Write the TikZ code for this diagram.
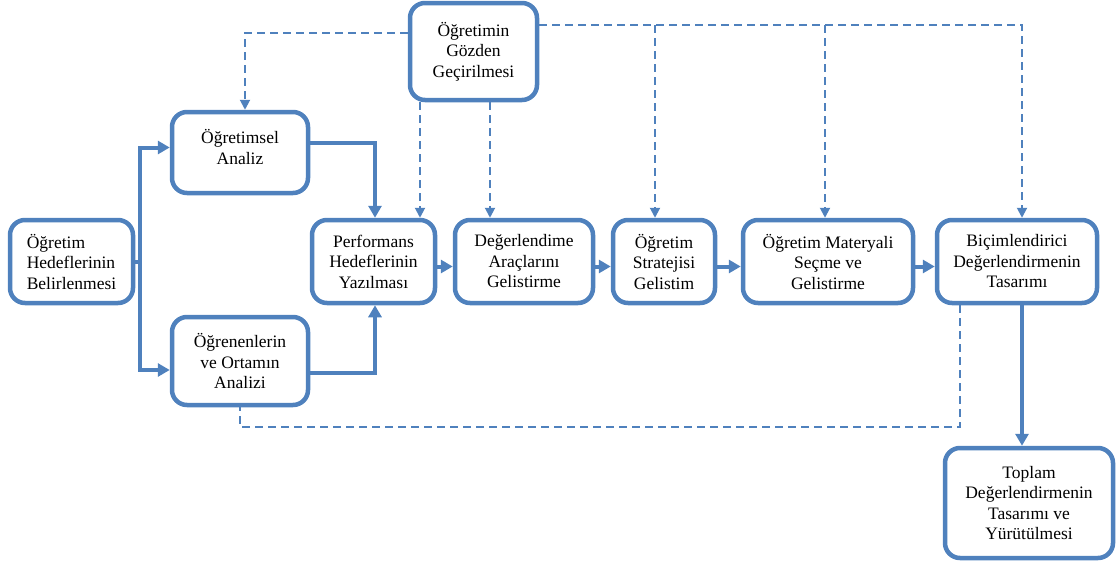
\documentclass[tikz,border=0pt]{standalone}
\usepackage{fontspec}
\setmainfont{Liberation Serif}
\usetikzlibrary{arrows.meta}
\definecolor{blu}{RGB}{79,129,189}
\begin{document}
\begin{tikzpicture}[x=1pt,y=-1pt,
  box/.style={draw=blu, line width=4.5pt, rounded corners=15pt, fill=white,
    align=center, text=black, font=\fontsize{17.5}{20.5}\selectfont, inner sep=2pt},
  flow/.style={draw=blu, line width=4pt, -{Triangle[length=12pt,width=13pt]}},
  flowline/.style={draw=blu, line width=4pt},
  fb/.style={draw=blu, line width=2pt, dash pattern=on 8pt off 5pt, -{Triangle[length=10pt,width=10pt]}},
  fbn/.style={draw=blu, line width=2pt, dash pattern=on 8pt off 5pt}
]
\useasboundingbox (0,0) rectangle (1116,562);

\node[box, align=left, minimum width=123pt, minimum height=83pt] (hedef) at (71.5,261.5) {Öğretim\\Hedeflerinin\\Belirlenmesi};
\node[box, minimum width=136pt, minimum height=81pt] (analiz) at (240,152.5) {Öğretimsel\\Analiz\\[-9pt]};
\node[box, minimum width=136pt, minimum height=88pt] (ogren) at (240,361) {Öğrenenlerin\\ve Ortamın\\Analizi};
\node[box, minimum width=123pt, minimum height=83pt] (perf) at (373.5,261.5) {Performans\\Hedeflerinin\\Yazılması};
\node[box, minimum width=127pt, minimum height=97pt] (gozden) at (473.5,51.5) {Öğretimin\\Gözden\\Geçirilmesi};
\node[box, minimum width=138pt, minimum height=83pt] (deger) at (524,261.5) {Değerlendime\\Araçlarını\\Gelistirme};
\node[box, minimum width=102pt, minimum height=83pt] (strat) at (664,261.5) {Öğretim\\Stratejisi\\Gelistim};
\node[box, minimum width=170pt, minimum height=83pt] (mater) at (828,261.5) {Öğretim Materyali\\Seçme ve\\Gelistirme};
\node[box, minimum width=160pt, minimum height=83pt] (bicim) at (1017,261.5) {Biçimlendirici\\Değerlendirmenin\\Tasarımı};
\node[box, minimum width=168pt, minimum height=110pt] (toplam) at (1029,503) {Toplam\\Değerlendirmenin\\Tasarımı ve\\Yürütülmesi};

\coordinate (br) at (140,261.5);
\coordinate (yl) at (0,33);
\coordinate (yr) at (0,25);
\coordinate (ybot) at (0,427);

% solid connectors
\draw[flowline] (hedef.east) -- (br);
\draw[flow, {Triangle[length=12pt,width=13pt]}-{Triangle[length=12pt,width=13pt]}]
  ([yshift=5pt]analiz.west) -| (br) |- ([yshift=-9pt]ogren.west);
\draw[flow] ([yshift=9.5pt]analiz.east) -| ([xshift=1.5pt]perf.north);
\draw[flow] ([yshift=-12pt]ogren.east) -| ([xshift=1.5pt]perf.south);
\draw[flow] ([yshift=-5pt]perf.east) -- ([yshift=-5pt]deger.west);
\draw[flow] ([yshift=-5pt]deger.east) -- ([yshift=-5pt]strat.west);
\draw[flow] ([yshift=-5pt]strat.east) -- ([yshift=-5pt]mater.west);
\draw[flow] ([yshift=-5pt]mater.east) -- ([yshift=-5pt]bicim.west);
\draw[flow] ([xshift=5pt]bicim.south) -- ([xshift=5pt]bicim.south |- toplam.north);

% dashed feedback
\draw[fb] (gozden.west |- yl) -| ([xshift=5pt]analiz.north);
\draw[fb] ([xshift=-53.5pt]gozden.south) -- ([xshift=-53.5pt]gozden.south |- perf.north);
\draw[fb] ([xshift=16.5pt]gozden.south) -- ([xshift=16.5pt]gozden.south |- deger.north);
\draw[fb] (gozden.east |- yr) -| ([xshift=5pt]bicim.north);
\draw[fb] ([xshift=-9pt]strat.north |- yr) -- ([xshift=-9pt]strat.north);
\draw[fb] ([xshift=-3pt]mater.north |- yr) -- ([xshift=-3pt]mater.north);
\draw[fbn] ([xshift=-57pt]bicim.south) |- (ybot -| ogren.south) -- (ogren.south);
\end{tikzpicture}
\end{document}
